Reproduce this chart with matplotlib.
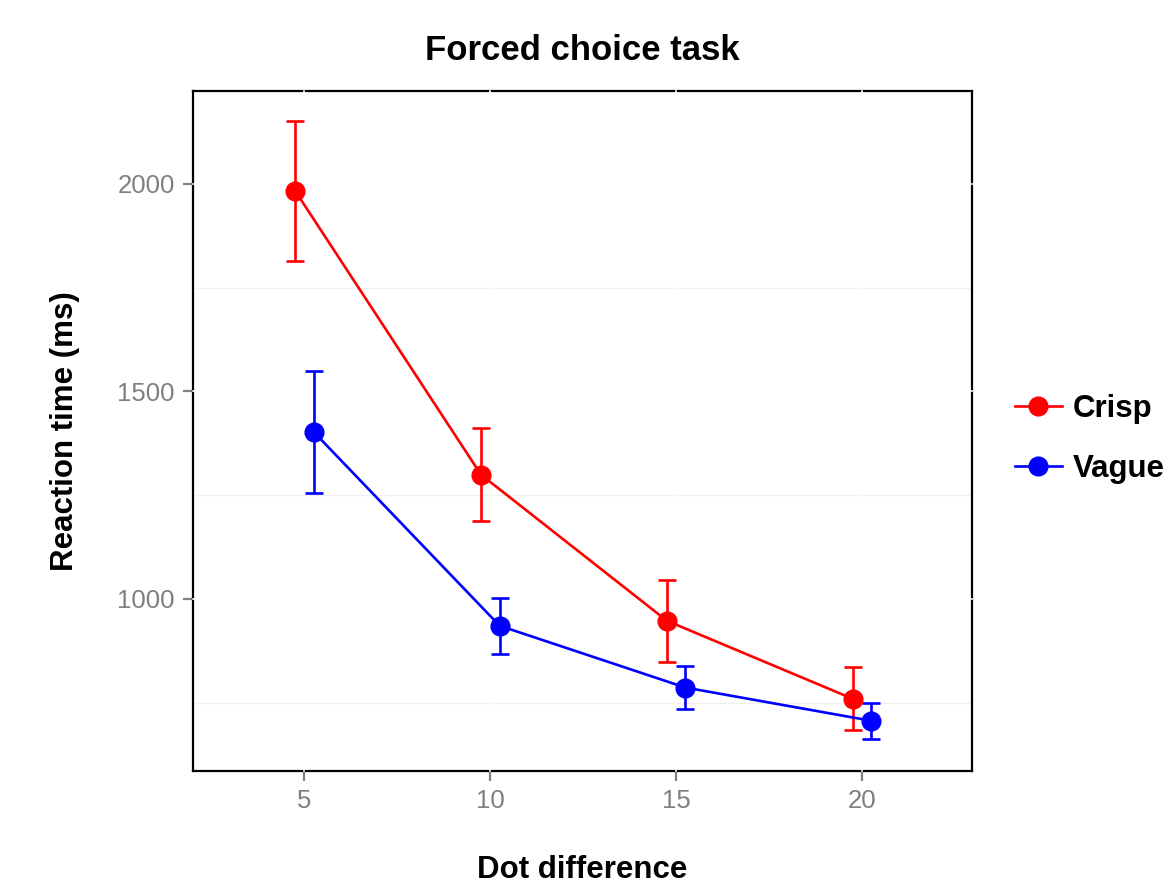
import matplotlib
matplotlib.use("Agg")
import matplotlib.pyplot as plt
import numpy as np

plt.rcParams["font.family"] = ["Liberation Sans", "DejaVu Sans"]

# data
dot_diff = [5, 10, 15, 20]
crisp_rt = [1983, 1299, 947, 759]
crisp_se = [168, 112, 99, 76]
vague_rt = [1402, 935, 786, 706]
vague_se = [146, 68, 52, 44]
series = ["Crisp", "Vague"]
colors = ["#ff0000", "#0000ff"]
dodge = [-0.25, 0.25]

y_major = [1000, 1500, 2000]
y_minor = [750, 1250, 1750]

fig = plt.figure(figsize=(11.64, 8.91), dpi=100)
ax = fig.add_axes([0.1658, 0.1347, 0.6693, 0.7632])

x = np.array(dot_diff, dtype=float)
for name, rt, se, col, dx in zip(series, [crisp_rt, vague_rt], [crisp_se, vague_se],
                                 colors, dodge):
    ax.errorbar(x + dx, rt, yerr=se, color=col, lw=1.9, elinewidth=1.9,
                capsize=6.8, capthick=1.9, marker="o", markersize=13.5,
                label=name, zorder=4)

ax.set_xlim(2.0, 22.96)
ax.set_ylim(585, 2224)
ax.set_xticks(dot_diff)
ax.set_yticks(y_major)
ax.set_yticks(y_minor, minor=True)

# ggplot-like grid: light grey minor lines, white major lines
ax.grid(which="minor", axis="y", color="#f0f0f0", lw=1.0, zorder=1)
for v in y_major:
    ax.axhline(v, color="white", lw=1.2, zorder=2.6, clip_on=False)
for v in dot_diff:
    ax.axvline(v, color="white", lw=1.2, zorder=2.6, clip_on=False)

for s in ax.spines.values():
    s.set_color("black")
    s.set_linewidth(1.6)
    s.set_zorder(2)

ax.tick_params(which="major", direction="out", length=7, width=1.6,
               color="#7f7f7f", labelcolor="#7f7f7f", labelsize=18.5, pad=6)
ax.tick_params(which="minor", length=0)

ax.set_title("Forced choice task", fontsize=25, fontweight="bold", pad=22)
ax.set_xlabel("Dot difference", fontsize=22.5, fontweight="bold", labelpad=30)
ax.set_ylabel("Reaction time (ms)", fontsize=22.5, fontweight="bold", labelpad=27)

handles, labels = ax.get_legend_handles_labels()
handles = [h[0] for h in handles]
fig.legend(handles, labels, loc="center left", bbox_to_anchor=(0.872, 0.507),
           frameon=False, borderpad=0, borderaxespad=0,
           prop={"size": 22.5, "weight": "bold"},
           handlelength=1.5, handletextpad=0.35, labelspacing=0.95)

plt.savefig("out.png", dpi=100)
